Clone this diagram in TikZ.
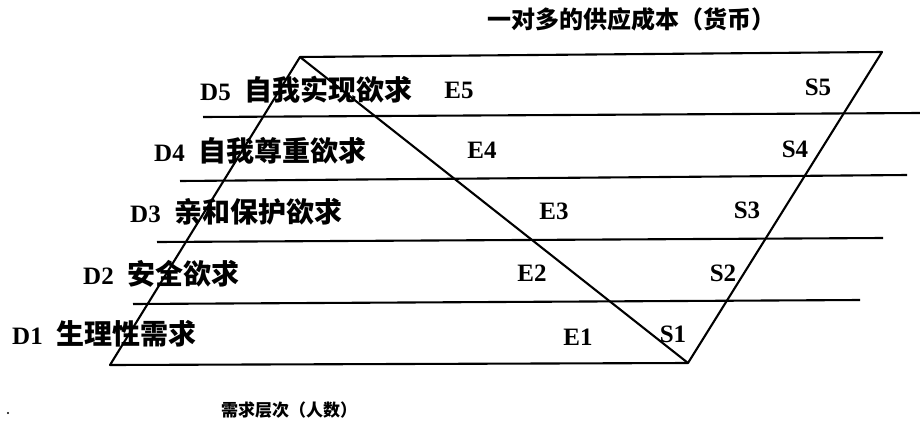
\documentclass[tikz,border=0pt]{standalone}
\usepackage{fontspec}
\setmainfont{Liberation Serif}
\newfontfamily\cjk{Noto Sans CJK SC}
\begin{document}
\begin{tikzpicture}[x=1pt,y=-1pt,
  edge/.style={line width=2.1pt, line join=round},
  lbl/.style={font=\fontsize{25}{27}\selectfont\bfseries, inner sep=0pt},
  dlbl/.style={lbl, anchor=west},
  ttl/.style={font=\fontsize{24}{26}\selectfont\cjk\bfseries, inner sep=0pt}]
\useasboundingbox (0,0) rectangle (920,431);
% parallelogram corners
\coordinate (TL) at (300,57);
\coordinate (TR) at (882,52);
\coordinate (BR) at (688,363);
\coordinate (BL) at (110,365);
% level lines
\coordinate (L1a) at (203,117); \coordinate (L1b) at (920,113);
\coordinate (L2a) at (180,181); \coordinate (L2b) at (907,175);
\coordinate (L3a) at (157,242); \coordinate (L3b) at (883,238);
\coordinate (L4a) at (133,304); \coordinate (L4b) at (860,300);
\draw[edge] (TL) -- (TR) -- (BR) -- (BL) -- cycle;
\draw[edge] (TL) -- (BR);
\draw[edge] (L1a) -- (L1b);
\draw[edge] (L2a) -- (L2b);
\draw[edge] (L3a) -- (L3b);
\draw[edge] (L4a) -- (L4b);
% D labels
\newcommand{\zh}[1]{{\fontsize{28}{30}\selectfont\cjk\bfseries #1}}
\node[dlbl] (D5) at (200,90) {D5\hspace{0.55em}\zh{自我实现欲求}};
\node[dlbl] (D4) at (154,151) {D4\hspace{0.55em}\zh{自我尊重欲求}};
\node[dlbl] (D3) at (130,212) {D3\hspace{0.55em}\zh{亲和保护欲求}};
\node[dlbl] (D2) at (83,274) {D2\hspace{0.55em}\zh{安全欲求}};
\node[dlbl] (D1) at (12,334) {D1\hspace{0.55em}\zh{生理性需求}};
% E labels
\node[lbl] (E5) at (459,90) {E5};
\node[lbl] (E4) at (482,150) {E4};
\node[lbl] (E3) at (554,211) {E3};
\node[lbl] (E2) at (532,273) {E2};
\node[lbl] (E1) at (578,337) {E1};
% S labels
\node[lbl] (S5) at (818,87) {S5};
\node[lbl] (S4) at (795,149) {S4};
\node[lbl] (S3) at (747,210) {S3};
\node[lbl] (S2) at (723,273) {S2};
\node[lbl] (S1) at (673,334) {S1};
% titles
\node[ttl] (top) at (631,19) {一对多的供应成本（货币）};
\node[ttl, font=\fontsize{17}{19}\selectfont\cjk\bfseries] (bottom) at (289,410) {需求层次（人数）};
\fill (8,413) circle (1.2pt);
\end{tikzpicture}
\end{document}
